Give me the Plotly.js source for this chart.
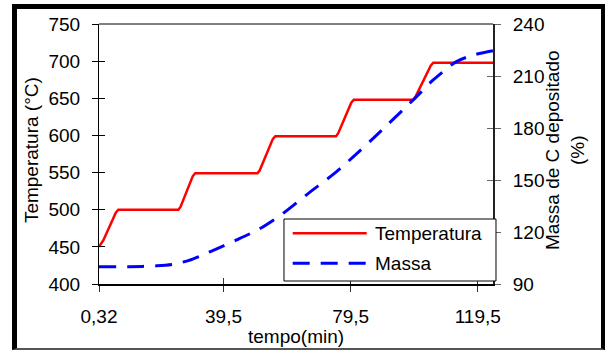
<!DOCTYPE html>
<html>
<head>
<meta charset="utf-8">
<script src="https://cdn.plot.ly/plotly-3.0.1.min.js"></script>
<style>
  html, body { margin: 0; padding: 0; background: #fff; }
  #frame {
    position: absolute; left: 12px; top: 4px;
    width: 584px; height: 339px;
    border-left: 5px solid #000; border-top: 5px solid #000;
    border-right: 4px solid #000; border-bottom: 2px solid #555;
  }
  #chart { width: 584px; height: 339px; }
</style>
</head>
<body>
<div id="frame"><div id="chart"></div></div>
<script>
// ---- data ----
const tempTime = [0.32, 1.7, 5.6, 6.4, 25.3, 26.0, 29.8, 30.6, 50.2, 50.9, 55.0, 55.8, 74.9, 75.6, 79.7, 80.5, 99.2, 99.9, 104.7, 105.5, 124.3];
const temperatura = [450, 459, 496, 500, 500, 504, 545, 549, 549, 553, 595, 599, 599, 603, 644, 648, 648, 652, 694, 698, 698];

const massTime = [0.32, 10, 18.5, 24, 28.4, 32, 35.2, 43.6, 51.0, 58.3, 66.2, 74.0, 80.3, 86.6, 99.2, 105.5, 112.8, 118.1, 124.3];
const massa = [100, 100, 100.5, 101.5, 103.5, 106, 108.6, 115.4, 122, 130.8, 142.3, 153.2, 163.3, 174, 196.2, 207.7, 218.3, 222.1, 224.6];

const xTickVals = [0.32, 39.5, 79.5, 119.5];
const xTickText = ['0,32', '39,5', '79,5', '119,5'];
const seriesNames = ['Temperatura', 'Massa'];

const FONT = 'Liberation Sans, Arial, sans-serif';
const xRange = [0.32, 124.3];
const yRange = [400, 750];
const y2Range = [90, 240];
const dashStr = '17px,11px';

const traces = [
  { x: tempTime, y: temperatura, name: seriesNames[0], type: 'scatter', mode: 'lines',
    line: { color: '#FF0000', width: 2.5 }, xaxis: 'x', yaxis: 'y', showlegend: false },
  { x: massTime, y: massa, name: seriesNames[1], type: 'scatter', mode: 'lines',
    line: { color: '#0000FF', width: 3, dash: dashStr, shape: 'spline', smoothing: 0.8 },
    xaxis: 'x', yaxis: 'y2', showlegend: false },
  { x: [], y: [], xaxis: 'x2', yaxis: 'y3', showlegend: false, hoverinfo: 'skip' },
  { x: [], y: [], xaxis: 'x2', yaxis: 'y4', showlegend: false, hoverinfo: 'skip' }
];

const tickFont = { family: FONT, size: 19, color: '#000' };

const layout = {
  width: 584, height: 339,
  margin: { l: 82, r: 108, t: 15, b: 64, pad: 0 },
  paper_bgcolor: '#fff', plot_bgcolor: '#fff',
  showlegend: false,
  xaxis: {
    range: xRange, tickmode: 'array', tickvals: xTickVals, ticktext: xTickText,
    showgrid: false, zeroline: false, showline: true, linecolor: '#000', linewidth: 2,
    ticks: 'outside', ticklen: 6, tickcolor: '#333', tickwidth: 1,
    tickfont: tickFont, ticklabelstandoff: 8, anchor: 'y', fixedrange: true
  },
  xaxis2: {
    range: xRange, tickmode: 'array', tickvals: xTickVals, overlaying: 'x',
    showgrid: false, zeroline: false, showline: false, showticklabels: false,
    ticks: 'inside', ticklen: 6, tickcolor: '#333', tickwidth: 1, anchor: 'y3', side: 'bottom'
  },
  yaxis: {
    range: yRange, dtick: 50, tick0: 400,
    showgrid: false, zeroline: false, showline: true, linecolor: '#000', linewidth: 1,
    ticks: 'outside', ticklen: 6, tickcolor: '#000', tickwidth: 1,
    tickfont: tickFont, ticklabelstandoff: 8, fixedrange: true
  },
  yaxis2: {
    range: y2Range, dtick: 30, tick0: 90, overlaying: 'y', side: 'right', anchor: 'x',
    showgrid: false, zeroline: false, showline: true, linecolor: '#222', linewidth: 2,
    ticks: 'outside', ticklen: 6, tickcolor: '#666', tickwidth: 1,
    tickfont: tickFont, ticklabelstandoff: 8, fixedrange: true
  },
  yaxis3: {
    range: yRange, dtick: 50, tick0: 400, overlaying: 'y', side: 'left', anchor: 'x2',
    showgrid: false, zeroline: false, showline: false, showticklabels: false,
    ticks: 'inside', ticklen: 6, tickcolor: '#000', tickwidth: 1
  },
  yaxis4: {
    range: y2Range, dtick: 30, tick0: 90, overlaying: 'y', side: 'right', anchor: 'x2',
    showgrid: false, zeroline: false, showline: false, showticklabels: false,
    ticks: 'inside', ticklen: 6, tickcolor: '#666', tickwidth: 1
  },
  shapes: [
    { type: 'line', xref: 'paper', yref: 'paper', x0: 0, x1: 1, y0: 1, y1: 1,
      line: { color: '#000', width: 1 }, layer: 'above' },
    { type: 'rect', xref: 'paper', yref: 'paper', x0: 0.4695, x1: 1.0076, y0: 0.0115, y1: 0.25,
      fillcolor: '#fff', line: { color: '#000', width: 1 }, layer: 'above' },
    { type: 'line', xref: 'paper', yref: 'paper', x0: 0.4916, x1: 0.6794, y0: 0.195, y1: 0.195,
      line: { color: '#FF0000', width: 2.5 }, layer: 'above' },
    { type: 'line', xref: 'paper', yref: 'paper', x0: 0.4916, x1: 0.6794, y0: 0.0796, y1: 0.0796,
      line: { color: '#0000FF', width: 3, dash: dashStr }, layer: 'above' }
  ],
  annotations: [
    { xref: 'paper', yref: 'paper', x: 0.6947, y: 0.195, xanchor: 'left', yanchor: 'middle',
      text: seriesNames[0], showarrow: false, font: { family: FONT, size: 19, color: '#000' } },
    { xref: 'paper', yref: 'paper', x: 0.6947, y: 0.0796, xanchor: 'left', yanchor: 'middle',
      text: seriesNames[1], showarrow: false, font: { family: FONT, size: 19, color: '#000' } },
    { xref: 'paper', yref: 'paper', x: -0.1726, y: 0.515, xanchor: 'center', yanchor: 'middle',
      text: 'Temperatura (°C)', textangle: -90, showarrow: false,
      font: { family: FONT, size: 19, color: '#000' } },
    { xref: 'paper', yref: 'paper', x: 1.1827, y: 0.515, xanchor: 'center', yanchor: 'middle',
      text: 'Massa de C depositado<br>(%)', textangle: -90, showarrow: false, align: 'center',
      font: { family: FONT, size: 19, color: '#000' } },
    { xref: 'paper', yref: 'paper', x: 0.501, y: -0.2, xanchor: 'center', yanchor: 'middle',
      text: 'tempo(min)', showarrow: false,
      font: { family: FONT, size: 19, color: '#000' } }
  ]
};

Plotly.newPlot('chart', traces, layout, { displayModeBar: false, staticPlot: true });
</script>
</body>
</html>
